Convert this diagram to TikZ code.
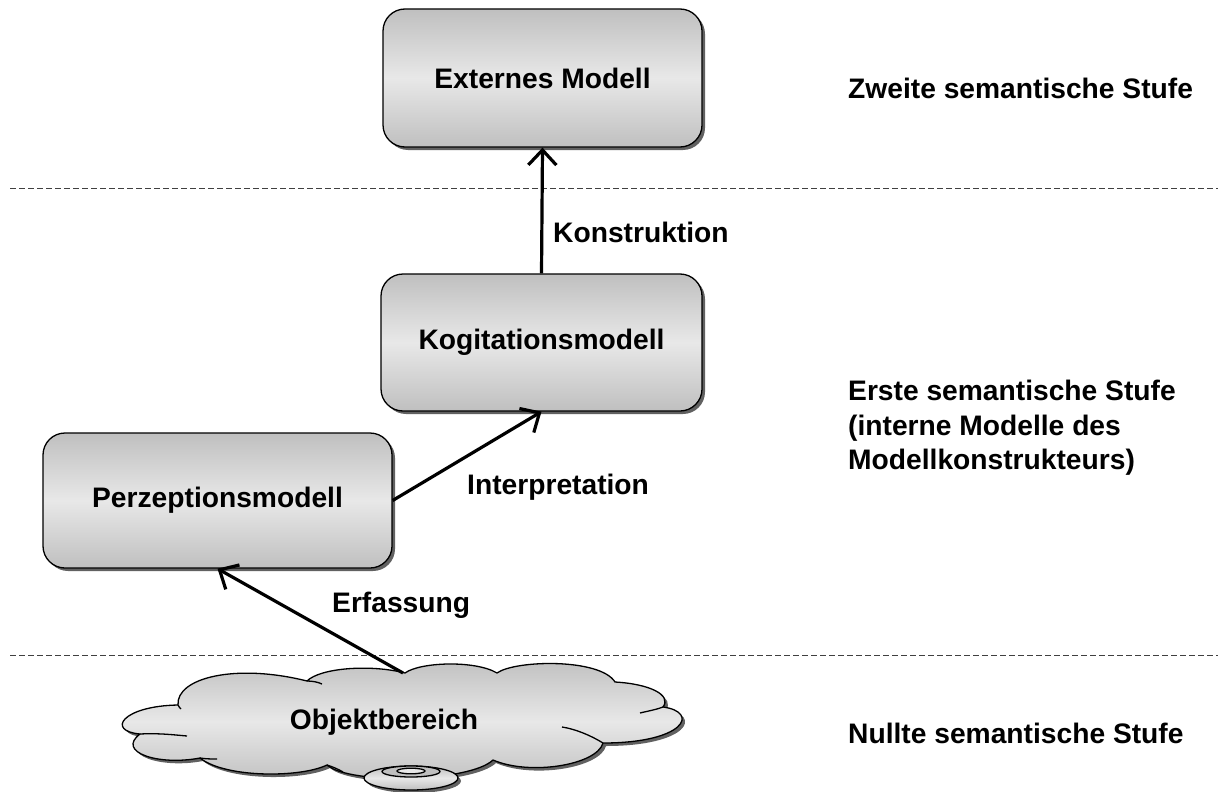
\documentclass[tikz,border=0pt]{standalone}
\usepackage{fontspec}
\setmainfont{Liberation Sans}
\usetikzlibrary{arrows.meta,shadows}

\definecolor{shadeedge}{gray}{0.75}
\definecolor{shademid}{gray}{0.91}
\definecolor{shadowgray}{gray}{0.38}

\tikzset{
  txt/.style={font=\bfseries\fontsize{28.2}{34.5}\selectfont},
  model/.style={txt, draw=black, line width=1.3pt, rounded corners=22pt,
    top color=shadeedge, bottom color=shadeedge, middle color=shademid,
    drop shadow={shadow xshift=3pt, shadow yshift=-3pt, fill=shadowgray, opacity=1},
    inner sep=0pt},
  cloudfill/.style={draw=black, line width=1.3pt, line join=round,
    top color=shadeedge, bottom color=shadeedge, middle color=shademid,
    drop shadow={shadow xshift=3pt, shadow yshift=-3pt, fill=shadowgray, opacity=1}},
  tail/.style={draw=black, line width=1.3pt},
  flow/.style={draw=black, line width=3.2pt,
    -{Straight Barb[length=15pt, width=28pt, line width=3.2pt]}},
  lbl/.style={txt, inner sep=0pt, anchor=west, align=left},
  level/.style={draw=black!75, line width=1pt, dash pattern=on 6pt off 3pt}
}

\begin{document}
\begin{tikzpicture}[x=1pt, y=-1pt]
  \useasboundingbox (0,0) rectangle (1218,792);

  % boundaries between the semantic levels
  \draw[level] (10,188) -- (1218,188);
  \draw[level] (10,655) -- (1218,655);

  % models
  \node[model, minimum width=319pt, minimum height=138pt] (ext) at (542.5,78) {Externes Modell};
  \node[model, minimum width=321pt, minimum height=137pt] (kog) at (541.5,342.5) {Kogitationsmodell};
  \node[model, minimum width=349pt, minimum height=135pt] (perz) at (217.5,500.5) {Perzeptionsmodell};

  % object domain cloud
  \path[cloudfill] (140,734)
    .. controls (106,731) and (122,706) .. (178,705)
    .. controls (176,678) and (235,663) .. (307,681)
    .. controls (320,668) and (370,664) .. (405,673)
    .. controls (420,662) and (475,660) .. (497,673)
    .. controls (515,660) and (600,658) .. (615,682)
    .. controls (650,684) and (672,695) .. (663,707)
    .. controls (700,712) and (685,743) .. (603,743)
    .. controls (597,765) and (530,776) .. (493,760)
    .. controls (470,782) and (350,785) .. (327,765)
    .. controls (300,778) and (225,778) .. (200,758)
    .. controls (158,766) and (116,752) .. (140,734) -- cycle;
  \draw[tail] (140,734) .. controls (160,733) and (175,735) .. (187,736);
  \draw[tail] (178,705) .. controls (179,707) and (180,708) .. (181,709);
  \draw[tail] (307,681) .. controls (312,681) and (318,682) .. (322,684);
  \draw[tail] (663,707) .. controls (655,710) and (648,711) .. (640,713);
  \draw[tail] (603,743) .. controls (590,735) and (575,729) .. (562,727);
  \draw[tail] (327,765) .. controls (333,767) and (338,769) .. (343,772);
  \draw[tail] (200,758) .. controls (206,759) and (212,759) .. (217,759);
  \coordinate (cloudtop) at (403,673);

  % small disc below the cloud
  \path[cloudfill] (411,778) ellipse [x radius=47, y radius=12];
  \draw[tail, fill=shadeedge] (411,771.5) ellipse [x radius=29, y radius=5.5];
  \draw[tail, fill=shademid] (411,771) ellipse [x radius=14, y radius=2.8];

  \node[txt, inner sep=0pt] (obj) at (384,722) {Objektbereich};

  % connectors
  \draw[flow] (kog.north) -- (ext.south);
  \draw[flow] (perz.east) -- (kog.south);
  \draw[flow] (cloudtop) -- (perz.south);

  % connector labels
  \node[lbl] (lkon) at (553,232) {Konstruktion};
  \node[lbl] (lint) at (467,487) {Interpretation};
  \node[lbl] (lerf) at (332,605) {Erfassung};

  % level labels
  \node[lbl] (z2) at (848,88) {Zweite semantische Stufe};
  \node[lbl] (z1) at (848,428) {Erste semantische Stufe\\(interne Modelle des\\Modellkonstrukteurs)};
  \node[lbl] (z0) at (848,733) {Nullte semantische Stufe};
\end{tikzpicture}
\end{document}
